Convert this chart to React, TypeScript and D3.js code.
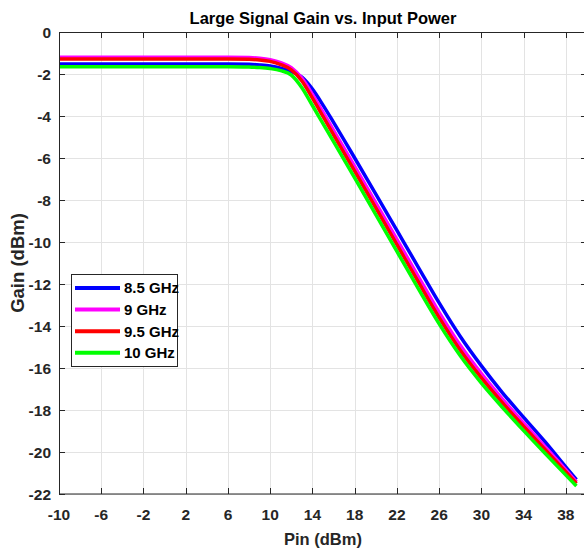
import React from 'react'
import * as d3 from 'd3'

// input power sweep (dBm)
const pin = [-10, -6, -2, 2, 6, 8, 9, 10, 11, 12, 13, 14, 15, 16, 18, 20, 22, 24, 26, 28, 30, 32, 34, 36, 38, 39]

// gain (dB) per frequency
const gain85 = [-1.52, -1.52, -1.52, -1.52, -1.52, -1.54, -1.57, -1.62, -1.72, -1.88, -2.15, -2.72, -3.48, -4.3, -6.0, -7.72, -9.45, -11.18, -12.9, -14.5, -15.9, -17.18, -18.35, -19.5, -20.72, -21.32]
const gain9 = [-1.2, -1.2, -1.2, -1.2, -1.2, -1.22, -1.25, -1.32, -1.46, -1.7, -2.2, -2.97, -3.82, -4.68, -6.4, -8.14, -9.88, -11.62, -13.35, -14.92, -16.27, -17.48, -18.62, -19.73, -20.85, -21.42]
const gain95 = [-1.28, -1.28, -1.28, -1.28, -1.28, -1.3, -1.33, -1.4, -1.55, -1.8, -2.33, -3.15, -4.02, -4.9, -6.63, -8.38, -10.13, -11.88, -13.6, -15.15, -16.47, -17.66, -18.78, -19.87, -20.95, -21.5]
const gain10 = [-1.65, -1.65, -1.65, -1.65, -1.65, -1.67, -1.69, -1.74, -1.84, -2.05, -2.65, -3.5, -4.36, -5.22, -6.95, -8.7, -10.45, -12.2, -13.9, -15.42, -16.72, -17.88, -18.98, -20.05, -21.1, -21.62]

const seriesNames = ['8.5 GHz', '9 GHz', '9.5 GHz', '10 GHz']
const seriesColors = ['#0000ff', '#ff00ff', '#ff0000', '#00ff00']
const seriesData = [gain85, gain9, gain95, gain10]

const xTicks = [-10, -6, -2, 2, 6, 10, 14, 18, 22, 26, 30, 34, 38]
const yTicks = [0, -2, -4, -6, -8, -10, -12, -14, -16, -18, -20, -22]

const W = 584
const H = 554
const margin = { left: 59, top: 32, right: 587, bottom: 494 }
const font = '"Liberation Sans", Arial, Helvetica, sans-serif'
const axisColor = '#262626'

export default function App () {
  const x = d3.scaleLinear().domain([-10, 40]).range([margin.left, margin.right])
  const y = d3.scaleLinear().domain([-22, 0]).range([margin.bottom, margin.top])

  const line = d3.line<number>()
    .x((d, i) => x(pin[i]))
    .y(d => y(d))
    .curve(d3.curveMonotoneX)

  const pw = margin.right - margin.left
  const ph = margin.bottom - margin.top
  const tickLen = 6

  return (
    <div style={{ position: 'fixed', left: 0, top: 0 }}>
      <svg width={W} height={H} style={{ display: 'block', background: '#fff' }}>
        <defs>
          <clipPath id='plotClip'>
            <rect x={margin.left} y={margin.top} width={pw} height={ph} />
          </clipPath>
        </defs>
        <rect x={margin.left} y={margin.top} width={pw} height={ph} fill='#fff' />

        {/* grid */}
        <g stroke='#e3e3e3' strokeWidth={1}>
          {xTicks.map(t => (
            <line key={'gx' + t} x1={Math.round(x(t)) + 0.5} x2={Math.round(x(t)) + 0.5} y1={margin.top} y2={margin.bottom} />
          ))}
          {yTicks.map(t => (
            <line key={'gy' + t} x1={margin.left} x2={margin.right} y1={Math.round(y(t)) + 0.5} y2={Math.round(y(t)) + 0.5} />
          ))}
        </g>

        {/* curves */}
        <g clipPath='url(#plotClip)'>
          {seriesData.map((s, i) => (
            <path key={seriesNames[i]} d={line(s) || ''} fill='none' stroke={seriesColors[i]} strokeWidth={3.5} strokeLinejoin='round' />
          ))}
        </g>

        {/* axes box + ticks */}
        <g stroke={axisColor} strokeWidth={1} fill='none'>
          <rect x={margin.left + 0.5} y={margin.top + 0.5} width={pw} height={ph - 0.5} />
          {xTicks.map(t => {
            const px = Math.round(x(t)) + 0.5
            return (
              <g key={'tx' + t}>
                <line x1={px} x2={px} y1={margin.bottom} y2={margin.bottom - tickLen} />
                <line x1={px} x2={px} y1={margin.top} y2={margin.top + tickLen} />
              </g>
            )
          })}
          {yTicks.map(t => {
            const py = Math.round(y(t)) + 0.5
            return (
              <g key={'ty' + t}>
                <line x1={margin.left} x2={margin.left + tickLen} y1={py} y2={py} />
                <line x1={margin.right - tickLen} x2={margin.right} y1={py} y2={py} />
              </g>
            )
          })}
        </g>

        {/* tick labels */}
        <g fontFamily={font} fontWeight='bold' fontSize={15.5} fill={axisColor}>
          {xTicks.map(t => (
            <text key={'lx' + t} x={x(t)} y={520} textAnchor='middle'>{t}</text>
          ))}
          {yTicks.map(t => (
            <text key={'ly' + t} x={51} y={y(t)} dy='0.36em' textAnchor='end'>{t}</text>
          ))}
        </g>

        {/* titles */}
        <text x={(margin.left + margin.right) / 2} y={24} textAnchor='middle' fontFamily={font} fontWeight='bold' fontSize={16.5} fill='#000'>
          Large Signal Gain vs. Input Power
        </text>
        <text x={(margin.left + margin.right) / 2} y={545} textAnchor='middle' fontFamily={font} fontWeight='bold' fontSize={16.5} fill={axisColor}>
          Pin (dBm)
        </text>
        <text transform={`translate(24,${(margin.top + margin.bottom) / 2}) rotate(-90)`} textAnchor='middle' fontFamily={font} fontWeight='bold' fontSize={18.5} fill={axisColor}>
          Gain (dBm)
        </text>

        {/* legend */}
        <g>
          <rect x={71.5} y={274.5} width={106} height={92} fill='#fff' stroke={axisColor} strokeWidth={1} />
          {seriesNames.map((n, i) => {
            const ly = 288 + i * 21.6
            return (
              <g key={'lg' + n}>
                <line x1={75} x2={120} y1={ly} y2={ly} stroke={seriesColors[i]} strokeWidth={4} />
                <text x={124} y={ly} dy='0.36em' fontFamily={font} fontWeight='bold' fontSize={15} fill='#000'>{n}</text>
              </g>
            )
          })}
        </g>
      </svg>
    </div>
  )
}
